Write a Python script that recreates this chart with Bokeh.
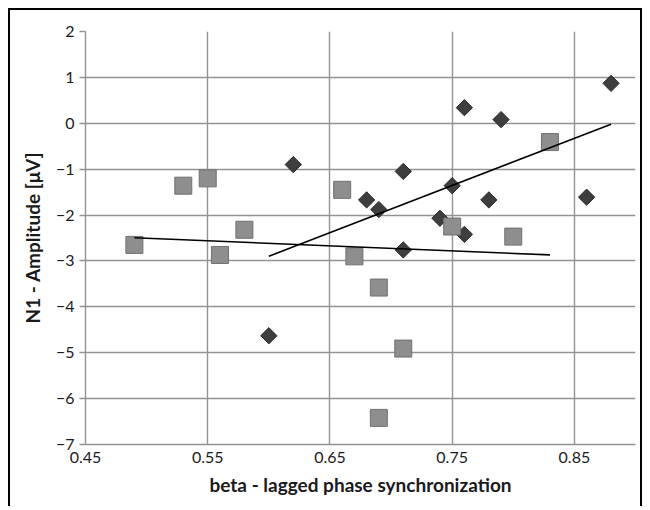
import numpy as np
from bokeh.plotting import figure
from bokeh.models import Range1d, FixedTicker
from bokeh.embed import file_html
from bokeh.resources import INLINE

# --- data ---
diamond_x = [0.60, 0.62, 0.68, 0.69, 0.71, 0.71, 0.74, 0.75, 0.76, 0.76, 0.78, 0.79, 0.86, 0.88]
diamond_y = [-4.63, -0.90, -1.67, -1.88, -1.05, -2.76, -2.07, -1.36, 0.34, -2.42, -1.67, 0.08, -1.61, 0.87]

square_x = [0.49, 0.53, 0.55, 0.56, 0.58, 0.66, 0.67, 0.69, 0.69, 0.71, 0.75, 0.80, 0.83]
square_y = [-2.65, -1.36, -1.20, -2.87, -2.32, -1.45, -2.90, -3.58, -6.42, -4.91, -2.25, -2.47, -0.41]

x_ticks = [0.45, 0.55, 0.65, 0.75, 0.85]
x_tick_labels = ["0.45", "0.55", "0.65", "0.75", "0.85"]
y_ticks = [2, 1, 0, -1, -2, -3, -4, -5, -6, -7]
y_tick_labels = ["2", "1", "0", "\u22121", "\u22122", "\u22123", "\u22124", "\u22125", "\u22126", "\u22127"]

x_title = "beta - lagged phase synchronization"
y_title = "N1 - Amplitude [\u03bcV]"

GRID = "#939393"
FONT = "Lato"

p = figure(width=634, height=498,
           x_range=Range1d(0.45, 0.9), y_range=Range1d(-7, 2),
           output_backend="svg", toolbar_location=None,
           min_border_left=75, min_border_right=9, min_border_top=21, min_border_bottom=64,
           styles={"margin-left": "8px", "margin-top": "8px",
                   "border-left": "2px solid black", "border-top": "2px solid black",
                   "border-right": "2px solid black"})
p.background_fill_color = "white"
p.border_fill_color = "white"
p.outline_line_color = None

# grid
p.xgrid.ticker = FixedTicker(ticks=x_ticks)
p.ygrid.ticker = FixedTicker(ticks=y_ticks)
for g in (p.xgrid, p.ygrid):
    g.grid_line_color = GRID
    g.grid_line_width = 1.4

# axes
p.xaxis.ticker = FixedTicker(ticks=x_ticks)
p.yaxis.ticker = FixedTicker(ticks=y_ticks)
p.xaxis.major_label_overrides = dict(zip(x_ticks, x_tick_labels))
p.yaxis.major_label_overrides = dict(zip(y_ticks, y_tick_labels))
for ax in (p.xaxis, p.yaxis):
    ax.axis_line_color = GRID
    ax.axis_line_width = 1.4
    ax.major_tick_line_color = GRID
    ax.major_tick_line_width = 1.4
    ax.minor_tick_line_color = None
    ax.major_tick_in = 0
    ax.major_label_text_font = FONT
    ax.major_label_text_font_size = "16px"
    ax.major_label_text_color = "#1a1a1a"
    ax.axis_label_text_font = FONT
    ax.axis_label_text_font_size = "19px"
    ax.axis_label_text_font_style = "bold"
    ax.axis_label_text_color = "#1a1a1a"
p.xaxis.major_tick_out = 0
p.yaxis.major_tick_out = 6
p.xaxis.major_label_standoff = 7
p.yaxis.major_label_standoff = 5
p.xaxis.axis_label = x_title
p.yaxis.axis_label = y_title
p.xaxis.axis_label_standoff = 7
p.yaxis.axis_label_standoff = 9

# markers
p.scatter(diamond_x, diamond_y, marker="square", angle=np.pi / 4, size=11.5,
          fill_color="#3e3e3e", line_color="#262626", line_width=1)
p.scatter(square_x, square_y, marker="square", size=17,
          fill_color="#8e8e8e", line_color="#707070", line_width=1)

# linear trendlines (least squares over each series' x span)
for xs, ys in ((diamond_x, diamond_y), (square_x, square_y)):
    xs = np.array(xs); ys = np.array(ys)
    m, b = np.polyfit(xs, ys, 1)
    lx = np.array([xs.min(), xs.max()])
    p.line(lx, m * lx + b, line_color="black", line_width=1.6)

open("out.html", "w").write(file_html(p, INLINE))
